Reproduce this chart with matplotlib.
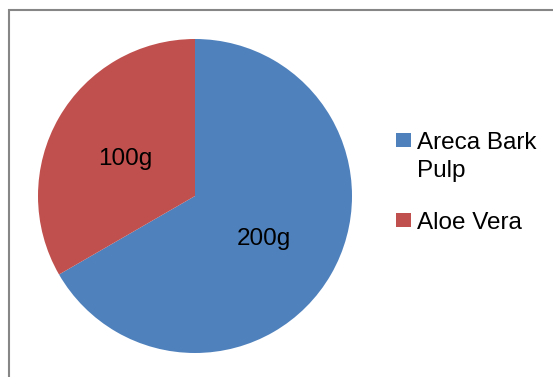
import matplotlib.pyplot as plt
from matplotlib.patches import Rectangle

# --- data ---
labels = ['Areca Bark\nPulp', 'Aloe Vera']
values = [200, 100]
value_text = ['200g', '100g']
colors = ['#4F81BD', '#C0504D']

W, H = 553, 377
FONT = 'Liberation Sans'


def px(x, y):
    # pixel position (from top-left) -> figure fraction
    return x / W, 1 - y / H


fig = plt.figure(figsize=(W / 100, H / 100), dpi=100)

# pie axes: centre (195, 196), radius 157 px
cx, cy, r = 195, 196, 157
ax = fig.add_axes([(cx - r) / W, 1 - (cy + r) / H, 2 * r / W, 2 * r / H])
lookup = dict(zip(values, value_text))
wedges, _, autotexts = ax.pie(
    values, colors=colors, startangle=90, counterclock=False,
    autopct=lambda p: lookup[round(p * sum(values) / 100)],
    pctdistance=0.51, wedgeprops=dict(linewidth=0),
    textprops=dict(fontsize=17.5, family=FONT, color='black'))
for t in autotexts:
    x, y = t.get_position()
    t.set_position((x, y - 0.02))
ax.set_xlim(-1, 1)
ax.set_ylim(-1, 1)
ax.axis('off')

# chart border (right and bottom run off the picture)
x0, y0 = px(9, 10)
fig.patches.append(Rectangle((x0, -0.1), 1.2, y0 + 0.1, transform=fig.transFigure,
                             fill=False, edgecolor='#868686', linewidth=1.5))

# legend, drawn by hand
rows_y = [133, 213]
for lab, col, ty in zip(labels, colors, rows_y):
    sx, sy = px(396, ty + 14)
    fig.patches.append(Rectangle((sx, sy), 15 / W, 14 / H, transform=fig.transFigure,
                                 facecolor=col, edgecolor='none'))
    tx, tyf = px(417, ty - 1)
    fig.text(tx, tyf, lab, fontsize=17.5, family=FONT, va='top', ha='left',
             linespacing=1.35)

fig.savefig('out.png', dpi=100)
